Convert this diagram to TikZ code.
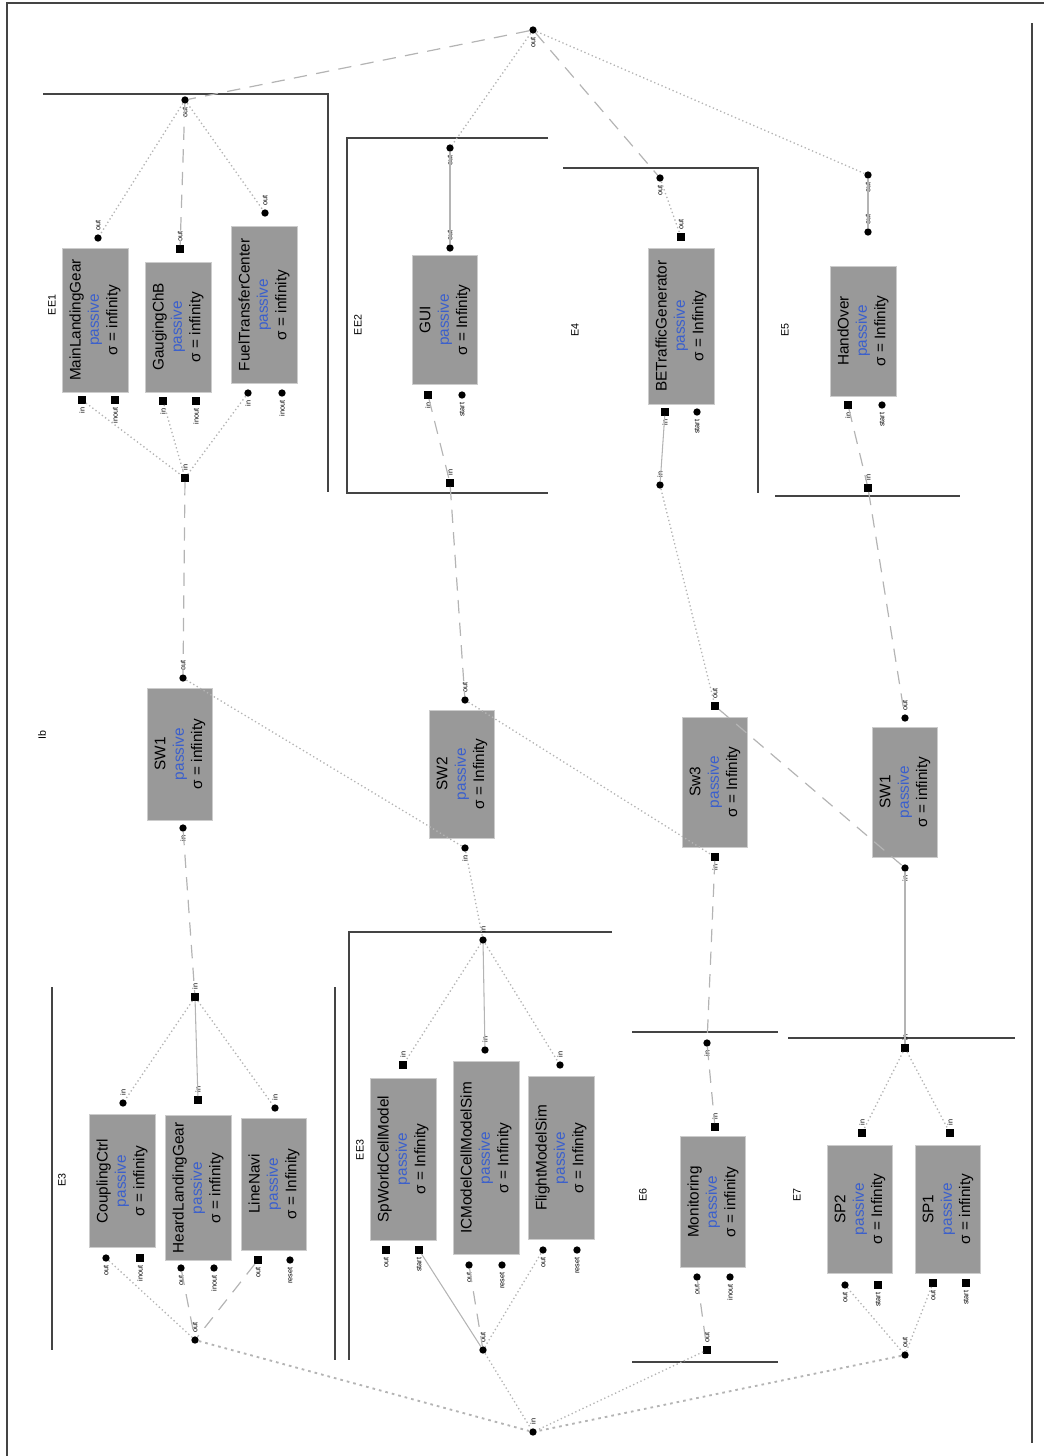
\documentclass[tikz,border=0pt]{standalone}
\usepackage{fontspec}
\setmainfont{Liberation Sans}
\usetikzlibrary{calc}
\definecolor{boxgray}{HTML}{999999}
\definecolor{pblue}{HTML}{3A5FCD}
\definecolor{lgray}{HTML}{B4B4B4}
\definecolor{frc}{HTML}{444444}
\newlength\pxl
\setlength\pxl{0.75pt}
\newcommand\portT[4]{\node[#1] (#2) at (#3) {}; \node[plab,anchor=west] (#2l) at ($(#2)+(0,-6)$) {#4};}
\newcommand\portB[4]{\node[#1] (#2) at (#3) {}; \node[plab,anchor=east] (#2l) at ($(#2)+(0,6)$) {#4};}
\begin{document}
\begin{tikzpicture}[x=0.75pt,y=-0.75pt,
  atom/.style={draw=black!20, line width=0.6pt, fill=boxgray, rotate=90, align=center,
    font=\fontsize{11.5}{13.8}\selectfont, inner sep=0pt},
  frame/.style={draw=frc, line width=2pt},
  outer/.style={draw=frc, line width=1.1pt},
  glab/.style={rotate=90, font=\fontsize{8}{9}\selectfont, inner sep=1pt},
  plab/.style={rotate=90, font=\fontsize{5.5}{6}\selectfont, inner sep=1pt},
  pc/.style={circle, fill=black, inner sep=0pt, minimum size=5.5pt},
  pq/.style={rectangle, fill=black, inner sep=0pt, minimum size=5.5pt},
  cd/.style={draw=lgray, line width=1pt, dash pattern=on 1pt off 2pt},
  cc/.style={draw=lgray, line width=1.4pt, dash pattern=on 2pt off 3pt},
  cl/.style={draw=lgray, line width=0.9pt, dash pattern=on 10pt off 7pt},
  cs/.style={draw=lgray, line width=0.8pt}]
\useasboundingbox (0,0) rectangle (1044,1456);
\draw[outer] (7,1456) -- (7,3) -- (1044,3);
\draw[frame] (1032,23) -- (1032,1443);
\node[glab] (toplab) at (42,735) {Ib};

% root ports
\portB{pc}{rt}{533,30}{out}
\portT{pc}{rb}{533,1432}{in}

% ---------- group 1
\draw[frame] (43,94) -- (328,94) -- (328,492);
\node[glab] (g1lab) at (52,305) {EE1};
\portB{pc}{g1o}{185,100}{out}
\portT{pq}{g1i}{185,478}{in}
\node[atom, minimum width=144\pxl, minimum height=66\pxl] (mlg) at (95,320) {MainLandingGear\\\textcolor{pblue}{passive}\\σ = infinity};
\node[atom, minimum width=130\pxl, minimum height=66\pxl] (gcb) at (178,327) {GaugingChB\\\textcolor{pblue}{passive}\\σ = infinity};
\node[atom, minimum width=157\pxl, minimum height=66\pxl] (ftc) at (264,305) {FuelTransferCenter\\\textcolor{pblue}{passive}\\σ = infinity};
\portT{pc}{mlgt}{98,238}{out}
\portB{pq}{mlgb1}{82,400}{in}
\portB{pq}{mlgb2}{115,400}{inout}
\portT{pq}{gcbt}{180,249}{out}
\portB{pq}{gcbb1}{163,401}{in}
\portB{pq}{gcbb2}{196,401}{inout}
\portT{pc}{ftct}{265,213}{out}
\portB{pc}{ftcb1}{248,393}{in}
\portB{pc}{ftcb2}{282,393}{inout}
\draw[cd] (g1o) -- (mlgt);
\draw[cl] (g1o) -- (gcbt);
\draw[cd] (g1o) -- (ftct);
\draw[cd] (mlgb1) -- (g1i);
\draw[cd] (gcbb1) -- (g1i);
\draw[cd] (ftcb1) -- (g1i);

% ---------- group 2 (GUI)
\draw[frame] (548,138) -- (347,138) -- (347,493) -- (548,493);
\node[glab] (g2lab) at (358,325) {EE2};
\portB{pc}{g2o}{450,148}{out}
\portT{pq}{g2i}{450,483}{in}
\node[atom, minimum width=129\pxl, minimum height=65\pxl] (gui) at (445,320) {GUI\\\textcolor{pblue}{passive}\\σ = Infinity};
\portT{pc}{guit}{450,248}{out}
\portB{pq}{guib1}{428,395}{in}
\portB{pc}{guib2}{462,395}{start}
\draw[cs] (g2o) -- (guit);
\draw[cl] (guib1) -- (g2i);

% ---------- group 3 (BETrafficGenerator)
\draw[frame] (563,168) -- (758,168) -- (758,493);
\node[glab] (g3lab) at (575,330) {E4};
\portB{pc}{g3o}{660,178}{out}
\portT{pc}{g3i}{660,485}{in}
\node[atom, minimum width=156\pxl, minimum height=66\pxl] (bet) at (681,326) {BETrafficGenerator\\\textcolor{pblue}{passive}\\σ = Infinity};
\portT{pq}{bett}{681,237}{out}
\portB{pq}{betb1}{665,412}{in}
\portB{pc}{betb2}{697,412}{start}
\draw[cd] (g3o) -- (bett);
\draw[cs] (betb1) -- (g3i);

% ---------- group 4 (HandOver)
\draw[frame] (775,496) -- (960,496);
\node[glab] (g4lab) at (785,330) {E5};
\portB{pc}{g4o}{868,175}{out}
\portT{pq}{g4i}{868,488}{in}
\node[atom, minimum width=130\pxl, minimum height=66\pxl] (ho) at (863,331) {HandOver\\\textcolor{pblue}{passive}\\σ = Infinity};
\portT{pc}{hot}{868,232}{out}
\portB{pq}{hob1}{848,405}{in}
\portB{pc}{hob2}{882,405}{start}
\draw[cs] (g4o) -- (hot);
\draw[cl] (hob1) -- (g4i);

% root to groups
\draw[cl] (rt) -- (g1o);
\draw[cd] (rt) -- (g2o);
\draw[cl] (rt) -- (g3o);
\draw[cd] (rt) -- (g4o);

% ---------- middle switches
\node[atom, minimum width=132\pxl, minimum height=65\pxl] (swa) at (180,754) {SW1\\\textcolor{pblue}{passive}\\σ = infinity};
\node[atom, minimum width=128\pxl, minimum height=65\pxl] (swb) at (462,774) {SW2\\\textcolor{pblue}{passive}\\σ = Infinity};
\node[atom, minimum width=130\pxl, minimum height=65\pxl] (swc) at (715,782) {Sw3\\\textcolor{pblue}{passive}\\σ = Infinity};
\node[atom, minimum width=130\pxl, minimum height=65\pxl] (swd) at (905,792) {SW1\\\textcolor{pblue}{passive}\\σ = infinity};
\portT{pc}{swat}{183,678}{out}
\portB{pc}{swab}{183,828}{in}
\portT{pc}{swbt}{465,700}{out}
\portB{pc}{swbb}{465,848}{in}
\portT{pq}{swct}{715,706}{out}
\portB{pq}{swcb}{715,857}{in}
\portT{pc}{swdt}{905,718}{out}
\portB{pc}{swdb}{905,868}{in}
\draw[cl] (g1i) -- (swat);
\draw[cl] (g2i) -- (swbt);
\draw[cd] (g3i) -- (swct);
\draw[cl] (g4i) -- (swdt);
\draw[cd] (swat) -- (swbb);
\draw[cd] (swbt) -- (swcb);
\draw[cl] (swct) -- (swdb);

% ---------- group E3
\draw[frame] (52,987) -- (52,1350);
\draw[frame] (335,987) -- (335,1360);
\node[glab] (e3lab) at (62,1180) {E3};
\portT{pq}{e3t}{195,997}{in}
\portT{pc}{e3b}{195,1340}{out}
\node[atom, minimum width=133\pxl, minimum height=66\pxl] (ccl) at (122,1181) {CouplingCtrl\\\textcolor{pblue}{passive}\\σ = infinity};
\node[atom, minimum width=145\pxl, minimum height=66\pxl] (hlg) at (198,1188) {HeardLandingGear\\\textcolor{pblue}{passive}\\σ = infinity};
\node[atom, minimum width=132\pxl, minimum height=65\pxl] (lnv) at (274,1184) {LineNavi\\\textcolor{pblue}{passive}\\σ = Infinity};
\portT{pc}{cclt}{123,1103}{in}
\portB{pc}{cclb1}{106,1258}{out}
\portB{pq}{cclb2}{140,1258}{inout}
\portT{pq}{hlgt}{198,1100}{in}
\portB{pc}{hlgb1}{181,1268}{out}
\portB{pc}{hlgb2}{214,1268}{inout}
\portT{pc}{lnvt}{275,1108}{in}
\portB{pq}{lnvb1}{258,1260}{out}
\portB{pc}{lnvb2}{290,1260}{reset}
\draw[cd] (e3t) -- (cclt);
\draw[cs] (e3t) -- (hlgt);
\draw[cd] (e3t) -- (lnvt);
\draw[cd] (cclb1) -- (e3b);
\draw[cl] (hlgb1) -- (e3b);
\draw[cl] (lnvb1) -- (e3b);

% ---------- group EE3
\draw[frame] (612,932) -- (349,932) -- (349,1360);
\node[glab] (e33lab) at (360,1150) {EE3};
\portT{pc}{e33t}{483,940}{in}
\portT{pc}{e33b}{483,1350}{out}
\node[atom, minimum width=162\pxl, minimum height=66\pxl] (spw) at (403,1159) {SpWorldCellModel\\\textcolor{pblue}{passive}\\σ = Infinity};
\node[atom, minimum width=193\pxl, minimum height=66\pxl] (icm) at (486,1158) {ICModelCellModelSim\\\textcolor{pblue}{passive}\\σ = Infinity};
\node[atom, minimum width=163\pxl, minimum height=66\pxl] (flm) at (561,1158) {FlightModelSim\\\textcolor{pblue}{passive}\\σ = Infinity};
\portT{pq}{spwt}{403,1065}{in}
\portB{pq}{spwb1}{386,1250}{out}
\portB{pq}{spwb2}{419,1250}{start}
\portT{pc}{icmt}{485,1050}{in}
\portB{pc}{icmb1}{469,1265}{out}
\portB{pc}{icmb2}{502,1265}{reset}
\portT{pc}{flmt}{560,1065}{in}
\portB{pc}{flmb1}{543,1250}{out}
\portB{pc}{flmb2}{577,1250}{reset}
\draw[cd] (e33t) -- (spwt);
\draw[cs] (e33t) -- (icmt);
\draw[cd] (e33t) -- (flmt);
\draw[cs] (spwb2) -- (e33b);
\draw[cl] (icmb1) -- (e33b);
\draw[cd] (flmb1) -- (e33b);

% ---------- group Monitoring
\draw[frame] (632,1032) -- (778,1032);
\draw[frame] (632,1362) -- (778,1362);
\node[glab] (monlab) at (643,1195) {E6};
\portB{pc}{mont}{707,1043}{in}
\portT{pq}{monb}{707,1350}{out}
\node[atom, minimum width=131\pxl, minimum height=65\pxl] (mon) at (713,1202) {Monitoring\\\textcolor{pblue}{passive}\\σ = infinity};
\portT{pq}{monbt}{715,1127}{in}
\portB{pc}{monbb1}{697,1277}{out}
\portB{pc}{monbb2}{730,1277}{inout}
\draw[cl] (mont) -- (monbt);
\draw[cl] (monbb1) -- (monb);

% ---------- group SP
\draw[frame] (788,1038) -- (1015,1038);
\node[glab] (splab) at (797,1195) {E7};
\portT{pq}{spt}{905,1048}{in}
\portT{pc}{spb}{905,1355}{out}
\node[atom, minimum width=128\pxl, minimum height=65\pxl] (sp2) at (860,1209) {SP2\\\textcolor{pblue}{passive}\\σ = Infinity};
\node[atom, minimum width=128\pxl, minimum height=65\pxl] (sp1) at (948,1209) {SP1\\\textcolor{pblue}{passive}\\σ = infinity};
\portT{pq}{sp2t}{862,1133}{in}
\portB{pc}{sp2b1}{845,1285}{out}
\portB{pq}{sp2b2}{878,1285}{start}
\portT{pq}{sp1t}{950,1133}{in}
\portB{pq}{sp1b1}{933,1283}{out}
\portB{pq}{sp1b2}{966,1283}{start}
\draw[cd] (spt) -- (sp2t);
\draw[cd] (spt) -- (sp1t);
\draw[cd] (sp2b1) -- (spb);
\draw[cd] (sp1b1) -- (spb);

% switches to lower groups
\draw[cl] (swab) -- (e3t);
\draw[cd] (swbb) -- (e33t);
\draw[cl] (swcb) -- (mont);
\draw[cs] (swdb) -- (spt);

% lower groups to root bottom
\draw[cc] (e3b) -- (rb);
\draw[cd] (e33b) -- (rb);
\draw[cd] (monb) -- (rb);
\draw[cc] (spb) -- (rb);
\end{tikzpicture}
\end{document}
